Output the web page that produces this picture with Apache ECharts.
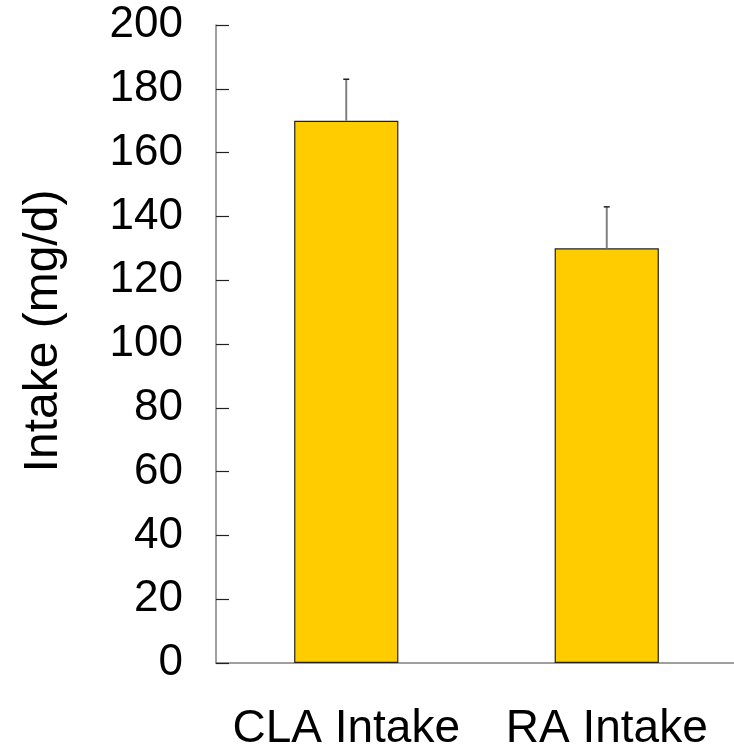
<!DOCTYPE html>
<html>
<head>
<meta charset="utf-8">
<script src="https://cdn.jsdelivr.net/npm/echarts@6/dist/echarts.min.js"></script>
<style>
html,body{margin:0;padding:0;background:#fff;}
#chart{width:734px;height:748px;}
</style>
</head>
<body>
<div id="chart"></div>
<script>
const categories = ['CLA Intake', 'RA Intake'];
const means = [170, 130];
const errors = [13, 13];
const yTicks = [0, 20, 40, 60, 80, 100, 120, 140, 160, 180, 200];

const chart = echarts.init(document.getElementById('chart'), null, {renderer: 'canvas'});
const font = '"Liberation Sans", Arial, sans-serif';

chart.setOption({
  animation: false,
  backgroundColor: '#ffffff',
  grid: {left: 216, right: -3, top: 25, bottom: 85, containLabel: false, outerBoundsMode: 'none'},
  xAxis: {
    type: 'category',
    data: categories,
    axisLine: {show: true, lineStyle: {color: '#808080', width: 1.5}},
    axisTick: {show: false},
    axisLabel: {color: '#000', fontSize: 46, fontFamily: font, margin: 43, interval: 0, hideOverlap: false}
  },
  yAxis: {
    type: 'value',
    min: yTicks[0],
    max: yTicks[yTicks.length - 1],
    interval: 20,
    name: 'Intake (mg/d)',
    nameLocation: 'middle',
    nameGap: 148,
    nameRotate: 90,
    nameTextStyle: {color: '#000', fontSize: 48, fontFamily: font, padding: [0, 0, 0, 26]},
    splitLine: {show: false},
    axisLine: {show: true, lineStyle: {color: '#808080', width: 1.5}},
    axisTick: {show: true, inside: true, length: 13, lineStyle: {color: '#222', width: 1.2}},
    axisLabel: {color: '#000', fontSize: 44, fontFamily: font, margin: 33}
  },
  series: [
    {
      type: 'bar',
      data: means,
      barWidth: '40%',
      itemStyle: {color: '#FFCC00', borderColor: '#222', borderWidth: 1.2}
    },
    {
      type: 'custom',
      data: means.map((m, i) => [i, m, m + errors[i]]),
      z: 5,
      renderItem: function (params, api) {
        const i = api.value(0);
        const p0 = api.coord([i, api.value(1)]);
        const p1 = api.coord([i, api.value(2)]);
        const half = 3;
        return {
          type: 'group',
          children: [
            {type: 'line', shape: {x1: p0[0], y1: p0[1], x2: p1[0], y2: p1[1]},
             style: {stroke: '#808080', lineWidth: 2}},
            {type: 'line', shape: {x1: p1[0] - half, y1: p1[1], x2: p1[0] + half, y2: p1[1]},
             style: {stroke: '#222', lineWidth: 1.5}}
          ]
        };
      }
    }
  ]
});
</script>
</body>
</html>
